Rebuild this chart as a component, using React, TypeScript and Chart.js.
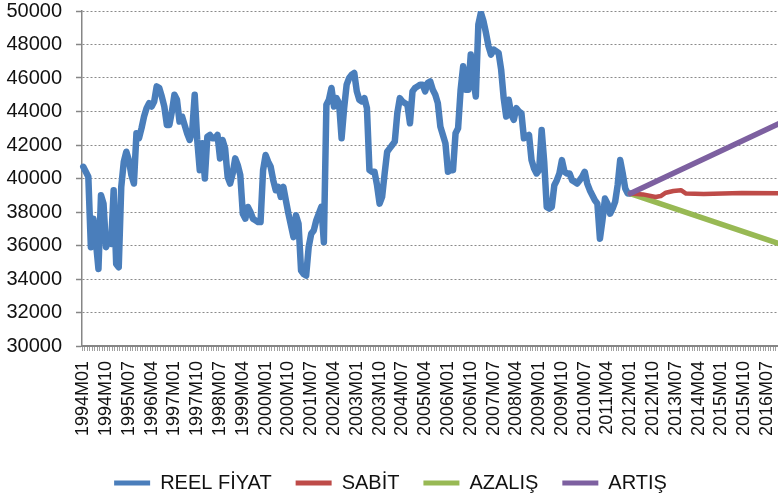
import React, { useEffect, useRef } from 'react';
import { Chart, registerables } from 'chart.js';

Chart.register(...registerables);

// ---- categories (monthly, 1994M01 .. 2016M12) ----
const START_YEAR = 1994;
const END_YEAR = 2016;
const MONTHS = ['01', '02', '03', '04', '05', '06', '07', '08', '09', '10', '11', '12'];
const CATEGORIES: string[] = [];
for (let y = START_YEAR; y <= END_YEAR; y++) {
  for (const m of MONTHS) CATEGORIES.push(`${y}M${m}`);
}
const LABEL_STEP = 9;

// ---- y axis ----
const Y_MIN = 30000;
const Y_MAX = 50000;
const Y_STEP = 2000;

// ---- REEL FİYAT (1994M01 .. 2012M01) ----
const REEL_1994 = [40700, 40400, 40100, 35900, 37600, 36200, 34600, 39000, 38500, 35900, 36300, 36100];
const REEL_1995 = [39300, 34900, 34700, 39500, 41000, 41600, 41100, 40200, 39700, 42700, 42400, 43000];
const REEL_1996 = [43700, 44200, 44500, 44300, 44600, 45500, 45400, 44900, 44300, 43200, 43200, 44000];
const REEL_1997 = [45000, 44700, 43400, 43700, 43200, 42700, 42300, 42800, 45000, 42300, 40500, 42100];
const REEL_1998 = [40000, 42500, 42600, 42400, 42400, 42600, 41200, 42300, 41800, 40100, 39700, 40300];
const REEL_1999 = [41200, 40800, 40200, 37900, 37600, 38300, 38000, 37600, 37500, 37400, 37400, 40500];
const REEL_2000 = [41400, 41000, 40700, 39900, 39300, 39500, 38900, 39500, 38700, 37900, 37200, 36500];
const REEL_2001 = [37800, 37300, 34500, 34300, 34200, 35900, 36700, 36900, 37500, 37900, 38300, 36200];
const REEL_2002 = [44400, 44700, 45400, 44300, 44800, 44500, 42400, 44200, 45600, 46000, 46200, 46300];
const REEL_2003 = [45200, 44700, 44600, 44800, 44200, 40500, 40400, 40400, 39600, 38500, 38900, 40300];
const REEL_2004 = [41600, 41800, 42000, 42200, 43900, 44800, 44600, 44500, 44400, 43300, 45200, 45400];
const REEL_2005 = [45500, 45600, 45600, 45200, 45700, 45800, 45300, 45000, 44500, 43100, 42600, 42100];
const REEL_2006 = [40400, 40500, 40500, 42700, 43000, 45300, 46700, 45300, 45300, 47400, 45900, 44900];
const REEL_2007 = [49200, 49900, 49400, 48700, 47900, 47400, 47700, 47600, 47500, 46500, 44800, 43700];
const REEL_2008 = [44700, 43800, 43500, 44200, 44000, 43900, 42400, 42500, 42600, 41100, 40600, 40300];
const REEL_2009 = [40500, 42900, 41000, 38300, 38200, 38300, 39600, 39900, 40300, 41100, 40400, 40300];
const REEL_2010 = [40300, 39900, 39800, 39700, 39900, 40100, 40400, 39700, 39300, 39000, 38700, 38500];
const REEL_2011 = [36400, 37500, 38800, 38500, 37900, 38200, 38600, 39600, 41100, 40300, 39400, 39100];
const REEL_2012 = [39100];
const REEL_FIYAT = [
  ...REEL_1994, ...REEL_1995, ...REEL_1996, ...REEL_1997, ...REEL_1998, ...REEL_1999,
  ...REEL_2000, ...REEL_2001, ...REEL_2002, ...REEL_2003, ...REEL_2004, ...REEL_2005,
  ...REEL_2006, ...REEL_2007, ...REEL_2008, ...REEL_2009, ...REEL_2010, ...REEL_2011,
  ...REEL_2012,
];

// ---- forecasts ----
const SABIT_MONTHS = ['2012M01', '2012M06', '2012M11', '2013M01', '2013M03', '2013M06', '2013M09', '2013M11', '2014M06', '2015M09', '2016M12'];
const SABIT_VALUES = [39100, 39050, 38900, 38950, 39150, 39250, 39300, 39100, 39080, 39130, 39120];
const AZALIS_MONTHS = ['2012M01', '2016M12'];
const AZALIS_VALUES = [39100, 36100];
const ARTIS_MONTHS = ['2012M01', '2016M12'];
const ARTIS_VALUES = [39100, 43300];

const toPoints = (months: string[], values: number[]) => months.map((m, i) => ({ x: m, y: values[i] }));

const FONT = "'Liberation Sans', Arial, Helvetica, sans-serif";
const TEXT = '#111111';
const AXIS = '#868686';

export default function App() {
  const ref = useRef<HTMLCanvasElement>(null);

  useEffect(() => {
    const canvas = ref.current;
    if (!canvas) return;
    const baseGen = (Chart as any).defaults.plugins.legend.labels.generateLabels;
    const line = (label: string, data: any, color: string, width: number, order: number) => ({
      label,
      data,
      borderColor: color,
      backgroundColor: color,
      borderWidth: width,
      pointRadius: 0,
      pointHoverRadius: 0,
      tension: 0,
      fill: false,
      borderJoinStyle: 'round' as const,
      borderCapStyle: 'round' as const,
      order,
    });
    const chart = new Chart(canvas, {
      type: 'line',
      data: {
        labels: CATEGORIES,
        datasets: [
          line('REEL FİYAT', REEL_FIYAT, '#4A7EBB', 6.5, 2),
          line('SABİT', toPoints(SABIT_MONTHS, SABIT_VALUES), '#BE4B48', 4.5, 1),
          line('AZALIŞ', toPoints(AZALIS_MONTHS, AZALIS_VALUES), '#98B954', 5.5, 1),
          line('ARTIŞ', toPoints(ARTIS_MONTHS, ARTIS_VALUES), '#7D60A0', 5.5, 0),
        ],
      },
      options: {
        animation: false,
        responsive: false,
        maintainAspectRatio: false,
        layout: { padding: { top: 11, left: 0, right: 0, bottom: 0 } },
        plugins: {
          tooltip: { enabled: false },
          legend: {
            position: 'bottom',
            labels: {
              font: { size: 20, family: FONT },
              color: TEXT,
              boxWidth: 36,
              boxHeight: 5,
              padding: 24,
              sort: (a: any, b: any) => a.datasetIndex - b.datasetIndex,
              generateLabels: (c: any) =>
                baseGen(c).map((it: any) => ({ ...it, lineWidth: 0, fillStyle: it.strokeStyle })),
            },
          },
        },
        scales: {
          x: {
            type: 'category',
            offset: true,
            ticks: {
              autoSkip: false,
              minRotation: 90,
              maxRotation: 90,
              padding: 10,
              font: { size: 18, family: FONT },
              color: TEXT,
              callback: (_v: any, i: number) => (i % LABEL_STEP === 0 ? CATEGORIES[i] : ''),
            },
            grid: {
              display: true,
              drawOnChartArea: false,
              drawTicks: true,
              tickLength: 5,
              tickColor: '#a0a0a0',
              tickWidth: 1,
              offset: true,
            },
            border: { display: true, color: AXIS, width: 2 },
            afterFit: (s: any) => {
              s.height = 103;
              s.paddingLeft = 0;
              s.paddingRight = 0;
            },
          },
          y: {
            min: Y_MIN,
            max: Y_MAX,
            ticks: {
              stepSize: Y_STEP,
              padding: 14,
              font: { size: 20, family: FONT },
              color: TEXT,
              callback: (v: any) => String(v),
            },
            grid: {
              color: '#8a8a8a',
              lineWidth: 1,
              drawTicks: true,
              tickLength: 6,
              tickColor: AXIS,
              tickWidth: 1.5,
              tickBorderDash: [],
            },
            border: { display: true, color: AXIS, width: 1.5, dash: [2, 2] },
            afterFit: (s: any) => {
              s.width = 82;
              s.paddingTop = 0;
              s.paddingBottom = 0;
            },
          },
        },
      } as any,
    });
    return () => chart.destroy();
  }, []);

  return (
    <div
      style={{
        position: 'absolute',
        left: 0,
        top: 0,
        width: 778,
        height: 499,
        overflow: 'hidden',
        background: '#ffffff',
      }}
    >
      <canvas ref={ref} width={781} height={503} style={{ display: 'block', width: 781, height: 503 }} />
    </div>
  );
}
